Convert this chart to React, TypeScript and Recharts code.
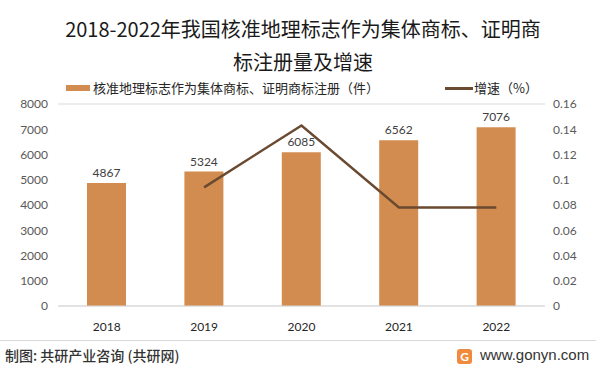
import { ComposedChart, Bar, Line, XAxis, YAxis, CartesianGrid, LabelList } from 'recharts'

const years = ['2018', '2019', '2020', '2021', '2022']
const registrations = [4867, 5324, 6085, 6562, 7076]
const growth = [null, 0.094, 0.143, 0.078, 0.078]
const leftTicks = [0, 1000, 2000, 3000, 4000, 5000, 6000, 7000, 8000]
const rightTicks = [0, 0.02, 0.04, 0.06, 0.08, 0.1, 0.12, 0.14, 0.16]

const BAR_COLOR = '#D38C4F'
const LINE_COLOR = '#6A4A30'
const CJK = '"Noto Sans CJK SC", "Noto Sans", sans-serif'
const NUM = 'Lato, "Noto Sans", sans-serif'

const data = years.map((year, i) => ({
  year,
  registrations: registrations[i],
  growth: growth[i],
}))

// 图例：柱 + 折线
function ChartLegend() {
  return (
    <div style={{ position: 'absolute', left: 0, top: 78, width: 596, height: 20, fontFamily: CJK, fontSize: 13, color: '#262626' }}>
      <div style={{ position: 'absolute', left: 66, top: 7, width: 24, height: 6, background: BAR_COLOR }} />
      <span style={{ position: 'absolute', left: 93, top: 0 }}>核准地理标志作为集体商标、证明商标注册（件）</span>
      <div style={{ position: 'absolute', left: 445, top: 9, width: 28, height: 3, background: LINE_COLOR }} />
      <span style={{ position: 'absolute', left: 474, top: 0 }}>增速（%）</span>
    </div>
  )
}

export default function App() {
  return (
    <div style={{ position: 'absolute', left: 0, top: 0, width: 596, height: 370, background: '#fff', overflow: 'hidden' }}>
      <div style={{ position: 'absolute', left: 0, top: 12, width: 606, textAlign: 'center', fontFamily: CJK, fontSize: 20, lineHeight: '33px', color: '#1a1a1a' }}>
        2018-2022年我国核准地理标志作为集体商标、证明商<br />标注册量及增速
      </div>
      <ChartLegend />
      <ComposedChart
        width={596}
        height={370}
        data={data}
        margin={{ top: 104, right: 0, left: 0, bottom: 34 }}
        style={{ position: 'absolute', left: 0, top: 0 }}
      >
        <CartesianGrid vertical={false} stroke="#D9D9D9" />
        <XAxis
          dataKey="year"
          height={30}
          tickLine={false}
          axisLine={{ stroke: '#D9D9D9' }}
          tick={{ fontSize: 12, fill: '#262626', fontFamily: NUM }}
          tickMargin={10}
        />
        <YAxis
          yAxisId="left"
          width={58}
          domain={[0, 8000]}
          ticks={leftTicks}
          tickLine={false}
          axisLine={false}
          tickSize={0}
          tickMargin={10}
          tick={{ fontSize: 12, fill: '#595959', fontFamily: NUM }}
        />
        <YAxis
          yAxisId="right"
          orientation="right"
          width={51}
          domain={[0, 0.16]}
          ticks={rightTicks}
          tickLine={false}
          axisLine={false}
          tickSize={0}
          tickMargin={8}
          tick={{ fontSize: 12, fill: '#595959', fontFamily: NUM, textAnchor: 'start' }}
        />
        <Bar yAxisId="left" dataKey="registrations" fill={BAR_COLOR} barSize={39} isAnimationActive={false}>
          <LabelList dataKey="registrations" position="top" offset={6} style={{ fontSize: 12, fill: '#404040', fontFamily: NUM }} />
        </Bar>
        <Line
          yAxisId="right"
          dataKey="growth"
          stroke={LINE_COLOR}
          strokeWidth={2.5}
          dot={false}
          type="linear"
          isAnimationActive={false}
        />
      </ComposedChart>
      <div style={{ position: 'absolute', left: 0, top: 340, width: 596, height: 1, background: '#D9D9D9' }} />
      <div style={{ position: 'absolute', left: 5, top: 345, fontFamily: CJK, fontSize: 14, fontWeight: 500, color: '#333' }}>
        制图: 共研产业咨询 (共研网)
      </div>
      <div style={{ position: 'absolute', left: 457, top: 349, width: 15, height: 15, borderRadius: 3, background: '#F08A3C', color: '#fff', fontFamily: NUM, fontSize: 12, fontWeight: 700, textAlign: 'center', lineHeight: '15px' }}>
        G
      </div>
      <div style={{ position: 'absolute', left: 480, top: 346, fontFamily: '"Liberation Sans", sans-serif', fontSize: 15, color: '#333' }}>
        www.gonyn.com
      </div>
    </div>
  )
}
